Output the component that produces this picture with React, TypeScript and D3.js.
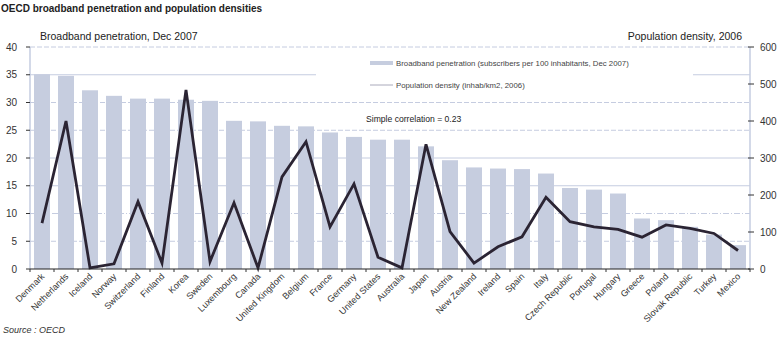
import React from "react";
import * as d3 from "d3";

const countries = ["Denmark","Netherlands","Iceland","Norway","Switzerland","Finland","Korea","Sweden","Luxembourg","Canada","United Kingdom","Belgium","France","Germany","United States","Australia","Japan","Austria","New Zealand","Ireland","Spain","Italy","Czech Republic","Portugal","Hungary","Greece","Poland","Slovak Republic","Turkey","Mexico"];
const broadband = [35.1,34.8,32.2,31.2,30.7,30.7,30.5,30.3,26.7,26.6,25.8,25.7,24.6,23.8,23.3,23.3,22.1,19.6,18.3,18.1,18.0,17.2,14.6,14.3,13.6,9.1,8.8,7.6,6.2,4.3];
const density = [124,400,3,14,182,16,484,20,179,3,249,344,114,230,32,3,337,101,16,60,87,194,128,114,107,86,119,110,96,50];
const leftTicks = [0,5,10,15,20,25,30,35,40];
const rightTicks = [0,100,200,300,400,500,600];
const solidGrid = [35, 20, 15];

const FONT = "'Liberation Sans', Arial, sans-serif";
const GRID = "#c5cce0";
const BAR = "#c6cddf";
const LINE = "#2b2433";

export default function App() {
  const x = d3.scaleBand<string>().domain(countries).range([30, 750]).paddingInner(1 / 3).paddingOuter(1 / 6);
  const yL = d3.scaleLinear().domain([0, 40]).range([269, 47]);
  const yR = d3.scaleLinear().domain([0, 600]).range([269, 47]);
  const step = x.step();
  const cx = (c: string) => (x(c) as number) + x.bandwidth() / 2;
  const line = d3.line<number>().x((_, i) => cx(countries[i])).y((d) => yR(d));

  return (
    <svg width={780} height={338} style={{ position: "absolute", left: 0, top: 0, background: "#fff" }} fontFamily={FONT}>
      <text x={1} y={12} fontSize={10} fontWeight="bold" fill="#222">OECD broadband penetration and population densities</text>
      <text x={40} y={40} fontSize={10.5} fill="#222">Broadband penetration, Dec 2007</text>
      <text x={742} y={40} fontSize={10.5} fill="#222" textAnchor="end">Population density, 2006</text>

      {/* gridlines */}
      {leftTicks.filter((t) => t > 0).map((t) => (
        <line key={"g" + t} x1={30} x2={750} y1={yL(t)} y2={yL(t)} stroke={GRID} strokeWidth={1}
          strokeDasharray={solidGrid.includes(t) ? undefined : t === 10 ? "6,2,1,2" : "5,2"} />
      ))}

      {/* legend box */}
      <rect x={316} y={53} width={377} height={42} fill="#fff" />
      <line x1={370} x2={393} y1={63} y2={63} stroke={BAR} strokeWidth={4} />
      <text x={396} y={66} fontSize={7.8} fill="#444">Broadband penetration (subscribers per 100 inhabitants, Dec 2007)</text>
      <line x1={370} x2={393} y1={85} y2={85} stroke="#aab" strokeWidth={1} />
      <text x={396} y={88} fontSize={7.8} fill="#444">Population density (inhab/km2, 2006)</text>

      {/* bars */}
      {countries.map((c, i) => (
        <rect key={c} x={x(c)} y={yL(broadband[i])} width={x.bandwidth()} height={yL(0) - yL(broadband[i])} fill={BAR} />
      ))}

      <text x={366} y={122} fontSize={8.6} fill="#222">Simple correlation = 0.23</text>

      {/* axes */}
      <line x1={30} x2={30} y1={47} y2={269} stroke={GRID} strokeWidth={1.5} />
      <line x1={750} x2={750} y1={47} y2={269} stroke={GRID} strokeWidth={1.5} />
      {leftTicks.map((t) => (
        <g key={"l" + t}>
          <line x1={26} x2={30} y1={yL(t)} y2={yL(t)} stroke="#333" />
          <text x={17} y={yL(t) + 3.5} fontSize={10} textAnchor="end" fill="#333">{t}</text>
        </g>
      ))}
      {rightTicks.map((t) => (
        <g key={"r" + t}>
          <line x1={748} x2={754} y1={yR(t)} y2={yR(t)} stroke="#333" />
          <text x={760} y={yR(t) + 3.5} fontSize={10} fill="#333">{t}</text>
        </g>
      ))}

      <path d={line(density) || ""} fill="none" stroke={LINE} strokeWidth={2.8} strokeLinejoin="miter" />

      <line x1={30} x2={750} y1={269} y2={269} stroke="#222" strokeWidth={1.2} />
      {d3.range(countries.length + 1).map((i) => (
        <line key={"t" + i} x1={30 + i * step} x2={30 + i * step} y1={269} y2={272} stroke="#333" />
      ))}
      {countries.map((c) => (
        <text key={"x" + c} transform={`translate(${cx(c) + 3},${277}) rotate(-45)`} fontSize={9} textAnchor="end" fill="#333">{c}</text>
      ))}

      <text x={3} y={333} fontSize={9} fill="#333" fontStyle="italic">Source : OECD</text>
    </svg>
  );
}
